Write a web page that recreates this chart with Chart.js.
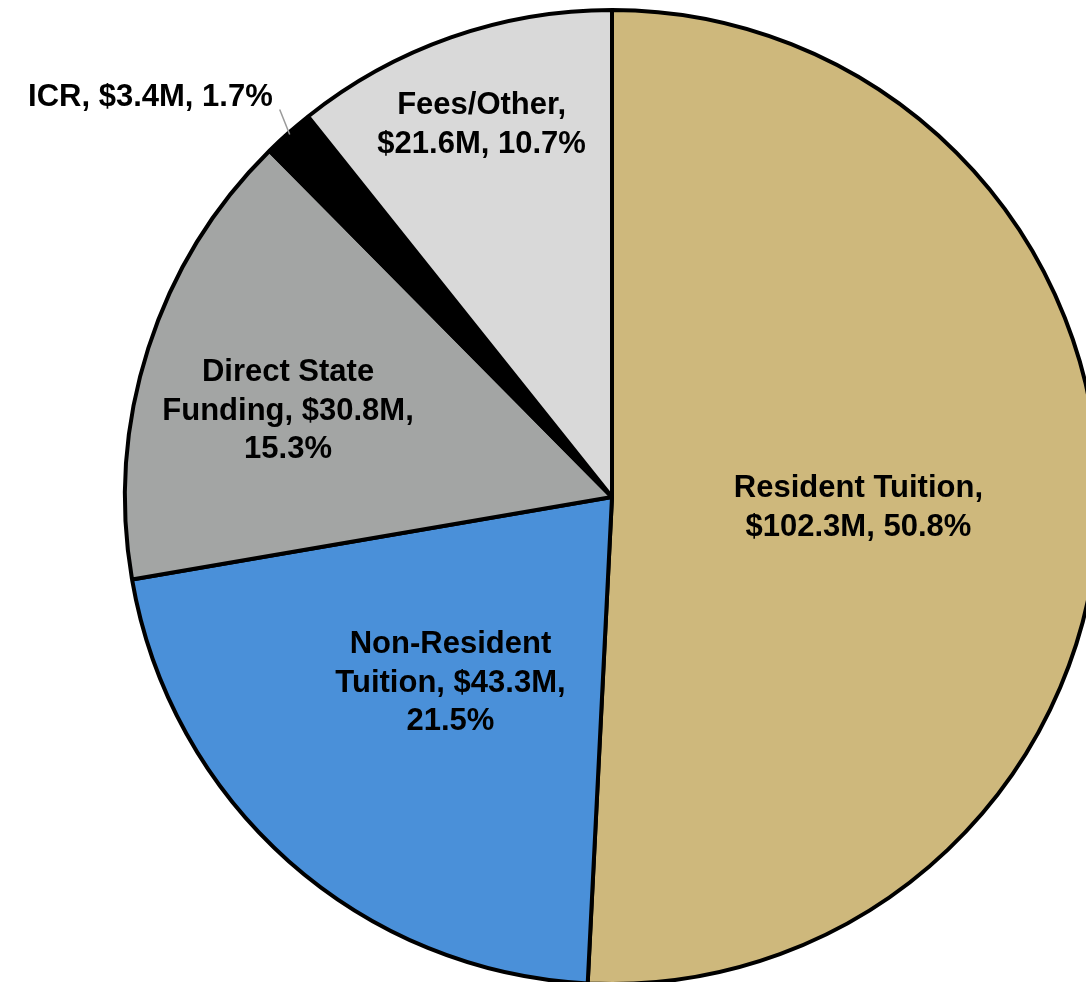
<!DOCTYPE html>
<html>
<head>
<meta charset="utf-8">
<script src="https://cdn.jsdelivr.net/npm/chart.js@4"></script>
<style>
  html, body { margin: 0; padding: 0; background: #fff; overflow: hidden; }
  #wrap { position: absolute; left: 0; top: 0; }
</style>
</head>
<body>
<div id="wrap"><canvas id="revenueChart" width="1224" height="994"></canvas></div>
<script>
// Chart data
const categories = ['Resident Tuition', 'Non-Resident Tuition', 'Direct State Funding', 'ICR', 'Fees/Other'];
const amounts = [102.3, 43.3, 30.8, 3.4, 21.6];   // $M
const percents = [50.8, 21.5, 15.3, 1.7, 10.7];

// Label lines (as shown on the chart)
const labelLines = [
  ['Resident Tuition,', '$102.3M, 50.8%'],
  ['Non-Resident', 'Tuition, $43.3M,', '21.5%'],
  ['Direct State', 'Funding, $30.8M,', '15.3%'],
  ['ICR, $3.4M, 1.7%'],
  ['Fees/Other,', '$21.6M, 10.7%']
];

// Styles
const sliceColors = ['#CEB87C', '#4A90D9', '#A3A5A4', '#000000', '#D9D9D9'];
const labelRadius = [0.5, 0.5, 0.69, null, 0.81];
const labelNudge = [[3, 5], [0, 4], [-4, 17], [0, 0], [0, 0]];
const labelFont = "bold 31px 'Liberation Sans', Arial, Helvetica, sans-serif";
const lineHeight = 38.5;

// Draws the slice labels, ICR label sits outside with a leader line
const sliceLabels = {
  id: 'sliceLabels',
  afterDatasetsDraw(chart) {
    const ctx = chart.ctx;
    const arcs = chart.getDatasetMeta(0).data;
    ctx.save();
    ctx.font = labelFont;
    ctx.fillStyle = '#000';
    ctx.textBaseline = 'middle';

    arcs.forEach((arc, i) => {
      const lines = labelLines[i];
      const mid = (arc.startAngle + arc.endAngle) / 2;
      if (labelRadius[i] === null) {
        // outside label
        const r = arc.outerRadius;
        const ex = arc.x + Math.cos(mid) * (r - 2);
        const ey = arc.y + Math.sin(mid) * (r - 2);
        ctx.strokeStyle = '#9a9a9a';
        ctx.lineWidth = 1.5;
        ctx.beginPath();
        ctx.moveTo(ex, ey);
        ctx.lineTo(ex - 10, ey - 25);
        ctx.stroke();
        ctx.textAlign = 'right';
        ctx.fillText(lines[0], ex - 17, ey - 37);
        return;
      }
      const r = arc.outerRadius * labelRadius[i];
      const cx = arc.x + Math.cos(mid) * r + labelNudge[i][0];
      const cy = arc.y + Math.sin(mid) * r + labelNudge[i][1];
      ctx.textAlign = 'center';
      const top = cy - (lines.length - 1) * lineHeight / 2;
      lines.forEach((line, j) => {
        ctx.fillText(line, cx, top + j * lineHeight);
      });
    });
    ctx.restore();
  }
};

const chart = new Chart(document.getElementById('revenueChart'), {
  type: 'pie',
  data: {
    labels: categories,
    datasets: [{
      data: amounts,
      backgroundColor: sliceColors,
      borderColor: '#000',
      borderWidth: 4
    }]
  },
  options: {
    responsive: false,
    animation: false,
    devicePixelRatio: 1,
    layout: { padding: { left: 123, right: 123, top: 8, bottom: 8 } },
    plugins: {
      legend: { display: false },
      tooltip: { enabled: false }
    }
  },
  plugins: [sliceLabels]
});
</script>
</body>
</html>
